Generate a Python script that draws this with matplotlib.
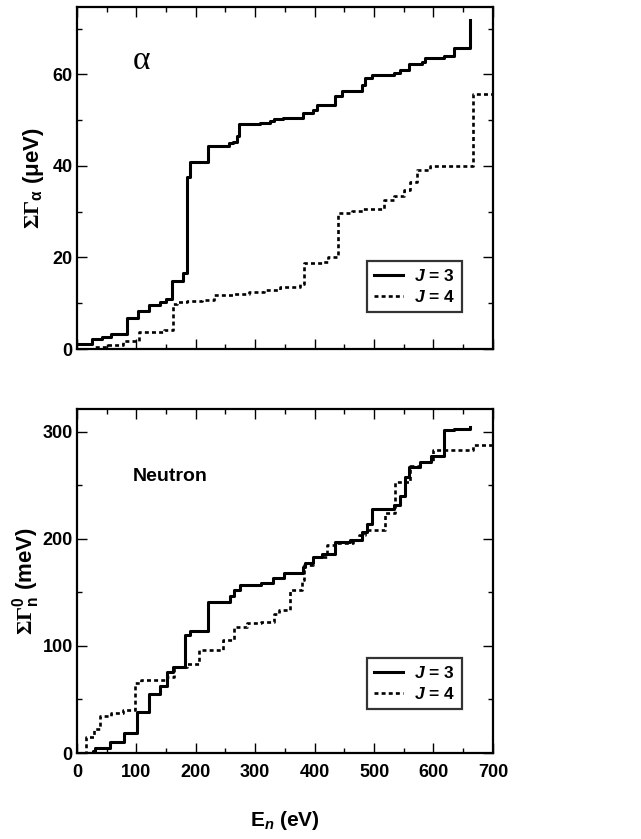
import matplotlib
matplotlib.use("Agg")
import matplotlib.pyplot as plt
from matplotlib.ticker import MultipleLocator

plt.rcParams['font.family'] = ['Liberation Sans', 'DejaVu Sans']
plt.rcParams['font.weight'] = 'bold'
plt.rcParams['mathtext.fontset'] = 'custom'
plt.rcParams['mathtext.rm'] = 'Liberation Serif:bold'
plt.rcParams['mathtext.it'] = 'Liberation Sans:italic:bold'
plt.rcParams['mathtext.bf'] = 'Liberation Serif:bold'
plt.rcParams['mathtext.sf'] = 'Liberation Sans:bold'

# cumulative alpha widths (ueV) vs neutron energy (eV)
alpha_j3_e = [0, 25, 42, 58, 84, 102, 122, 139, 150, 160, 178, 185, 190, 221, 256, 263, 269, 273,
              308, 325, 331, 347, 381, 398, 404, 434, 446, 479, 485, 496, 533, 544, 558, 580,
              586, 617, 634, 661]
alpha_j3_s = [1.2, 2.1, 2.7, 3.3, 6.8, 8.3, 9.6, 10.3, 11.0, 14.9, 16.7, 37.6, 40.9, 44.3, 44.9,
              45.3, 46.5, 49.1, 49.4, 49.7, 50.2, 50.4, 51.5, 52.2, 53.3, 55.2, 56.4, 57.6, 59.3,
              59.8, 60.3, 61.0, 62.2, 62.7, 63.5, 64.0, 65.8, 71.8]
alpha_j4_e = [11, 27, 50, 78, 105, 146, 161, 168, 185, 210, 230, 263, 289, 314, 342, 375, 382,
              412, 423, 439, 463, 482, 516, 533, 551, 561, 572, 594, 667, 700]
alpha_j4_s = [0, 0.4, 0.9, 1.8, 3.8, 4.1, 9.8, 10.3, 10.5, 10.7, 11.7, 12.1, 12.5, 13.0, 13.6,
              14.3, 18.7, 19.1, 20.1, 29.8, 30.2, 30.5, 32.5, 33.4, 34.7, 36.5, 39.1, 40.0, 55.8,
              55.8]

# cumulative reduced neutron widths (meV)
neut_j3_e = [0, 27, 30, 56, 79, 101, 122, 139, 152, 162, 182, 191, 221, 257, 264, 274, 309, 330,
             348, 381, 383, 398, 412, 434, 460, 479, 488, 496, 533, 544, 552, 558, 578, 595, 617,
             634, 661]
neut_j3_s = [0, 2, 4.4, 10.6, 19, 38.5, 55, 62.5, 76, 80, 110, 114, 141, 146.4, 152, 156.7, 158.3,
             163, 167.6, 174, 177, 183, 186, 197, 198.7, 206, 214, 228, 231, 240, 258, 267, 272,
             277, 301, 302, 304]
neut_j4_e = [0, 16, 28, 39, 58, 78, 98, 107, 152, 163, 185, 206, 246, 264, 286, 309, 332, 340,
             359, 378, 382, 398, 420, 437, 465, 474, 485, 519, 536, 561, 578, 600, 667, 700]
neut_j4_s = [0, 15, 22, 34.5, 37, 40, 65, 68, 71, 80, 83, 96, 105, 118, 121, 122.5, 130, 133,
             152, 161, 175, 183, 194, 196, 199, 203, 208, 224, 253, 268, 272, 283, 287, 287]

dotted = (0, (1.5, 1.2))

fig = plt.figure(figsize=(6.41, 8.39), dpi=100)
ax1 = fig.add_axes([0.120, 0.584, 0.649, 0.4076])
ax2 = fig.add_axes([0.120, 0.1025, 0.649, 0.410])


def style_axis(ax, ymax, ymajor, yminor):
    ax.set_xlim(0, 700)
    ax.set_ylim(0, ymax)
    ax.xaxis.set_major_locator(MultipleLocator(100))
    ax.xaxis.set_minor_locator(MultipleLocator(50))
    ax.yaxis.set_major_locator(MultipleLocator(ymajor))
    ax.yaxis.set_minor_locator(MultipleLocator(yminor))
    ax.tick_params(which='both', direction='in', top=True, right=True, width=1.0)
    ax.tick_params(which='major', length=7, labelsize=13)
    ax.tick_params(axis='y', pad=3)
    ax.tick_params(axis='x', pad=8)
    ax.tick_params(which='minor', length=3.5)
    for s in ax.spines.values():
        s.set_linewidth(1.6)


def add_legend(ax, y0):
    leg = ax.legend(loc='lower right', bbox_to_anchor=(0.925, y0), fontsize=12.5,
                    frameon=True, fancybox=False, edgecolor='black', handlelength=1.7,
                    borderpad=0.4, labelspacing=0.3, handletextpad=0.6, borderaxespad=0)
    leg.get_frame().set_linewidth(1.6)
    return leg


ax1.step(alpha_j3_e, alpha_j3_s, where='post', color='black', lw=2.2, label=r'$J$ = 3')
ax1.step(alpha_j4_e, alpha_j4_s, where='post', color='black', lw=1.9, linestyle=dotted,
         label=r'$J$ = 4')
style_axis(ax1, 74.7, 20, 10)
ax1.tick_params(axis='x', labelbottom=False)
ax1.set_ylabel(r'$\Sigma\Gamma_{\mathsf{\alpha}}$ (μeV)', fontsize=16, fontweight='bold')
ax1.yaxis.set_label_coords(-0.075, 0.5)
ax1.text(0.135, 0.82, 'α', transform=ax1.transAxes, fontsize=24, fontweight='normal',
         family='Liberation Serif')
add_legend(ax1, 0.107)

ax2.step(neut_j3_e, neut_j3_s, where='post', color='black', lw=2.2, label=r'$J$ = 3')
ax2.step(neut_j4_e, neut_j4_s, where='post', color='black', lw=1.9, linestyle=dotted,
         label=r'$J$ = 4')
style_axis(ax2, 321, 100, 50)
ax2.set_ylabel(r'$\Sigma\Gamma_{\mathsf{n}}^{\mathsf{0}}$ (meV)', fontsize=16, fontweight='bold')
ax2.yaxis.set_label_coords(-0.085, 0.5)
ax2.set_xlabel(r'E$_{n}$ (eV)', fontsize=15, fontweight='bold', labelpad=20)
ax2.text(0.135, 0.803, 'Neutron', transform=ax2.transAxes, fontsize=14, fontweight='bold',
         va='center')
add_legend(ax2, 0.128)

plt.savefig("out.png", dpi=100)
